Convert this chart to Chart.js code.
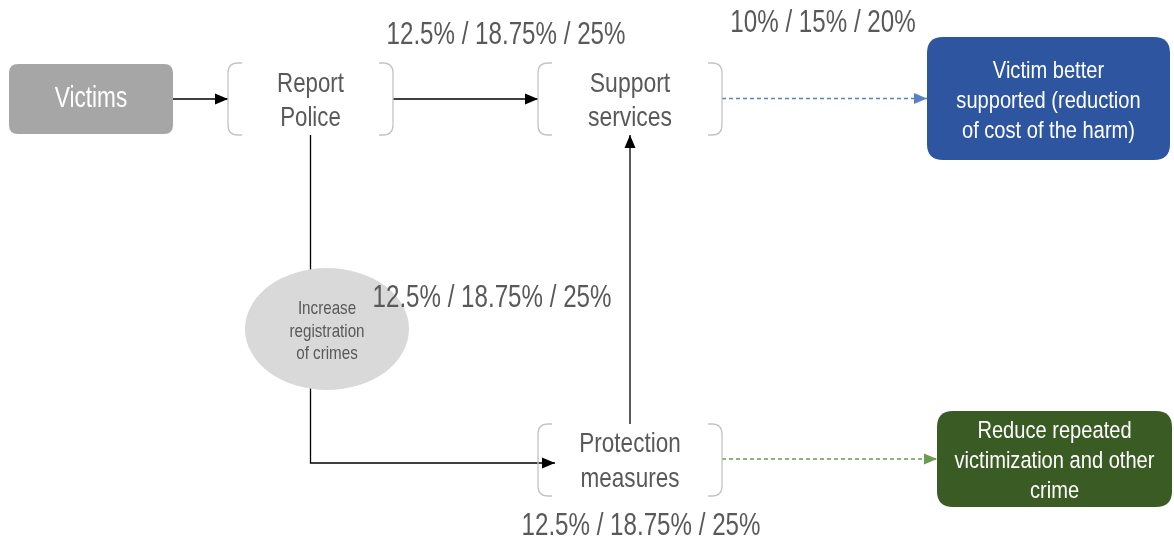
<!DOCTYPE html>
<html><head><meta charset="utf-8">
<script src="https://cdn.jsdelivr.net/npm/chart.js@4.4.1/dist/chart.umd.min.js"></script>
<style>html,body{margin:0;padding:0;background:#fff;overflow:hidden}canvas{display:block}</style>
</head><body><canvas id="c" width="1174" height="542"></canvas>
<script>
// ---- data ----
const nodeNames = ['Victims', 'Report\nPolice', 'Support\nservices', 'Increase\nregistration\nof crimes', 'Protection\nmeasures', 'Victim better\nsupported (reduction\nof cost of the harm)', 'Reduce repeated\nvictimization and other\ncrime'];
const nodeKinds = ['solid', 'bracket', 'bracket', 'ellipse', 'bracket', 'solid', 'solid'];
const rateLabels = ['12.5% / 18.75% / 25%', '10% / 15% / 20%', '12.5% / 18.75% / 25%', '12.5% / 18.75% / 25%'];
const edgeFrom = [0, 1, 2, 1, 4, 4];
const edgeTo = [1, 2, 5, 4, 2, 6];
const edgeKinds = ['straight', 'straight', 'straight', 'elbow', 'vertical', 'straight'];

// ---- layout / style (not data) ----
const nodeBoxes = [[9,64,173,134],[228,63,393,135],[538,63,722,135],[245,268,409,390],[538,424,722,496],[927,37,1170,160],[937,411,1172,507]];
const nodeFill = ['#a6a6a6', null, null, '#d9d9d9', null, '#2e55a0', '#3a5b24'];
const nodeText = ['#ffffff', '#595959', '#595959', '#595959', '#595959', '#ffffff', '#ffffff'];
const nodeFont = [30, 28, 28, 18.5, 28, 24.5, 24.5];
const nodeXs = [0.92, 0.97, 1.0, 1.0, 0.98, 1.0, 1.0];
const nodeLine = [34, 34, 34, 22.5, 35, 30, 30];
const nodeDy = [0, 2, 2, 2.5, 2, 3, 2];
const edgeColor = ['#000', '#000', '#5b7fc4', '#000', '#000', '#6d9a4e'];
const edgeDash = [[], [], [4, 3], [], [], [4, 3]];
const edgeInset = [0, 0, 0, 17, 0, 0];
const ratePos = [[506, 35], [823, 23], [492, 298], [641, 526]];

// font detection
function hasFont(name) {
  const c = document.createElement('canvas').getContext('2d');
  c.font = '40px monospace'; const a = c.measureText('abcdefghijklmWMi').width;
  c.font = "40px '" + name + "', monospace"; const b = c.measureText('abcdefghijklmWMi').width;
  return a !== b;
}
const NARROW = hasFont('Liberation Sans Narrow');
const FAMILY = NARROW ? "'Liberation Sans Narrow'" : "'Liberation Sans', Arial, sans-serif";
const XSCALE = NARROW ? 1 : 0.82;

function ctr(b) { return [(b[0] + b[2]) / 2, (b[1] + b[3]) / 2]; }

// edge routes computed from node boxes
const edgeRoutes = edgeFrom.map((f, i) => {
  const a = nodeBoxes[f], b = nodeBoxes[edgeTo[i]];
  const ca = ctr(a), cb = ctr(b);
  if (edgeKinds[i] === 'straight') { const y = cb[1]; return [{x: a[2], y: y}, {x: b[0] + edgeInset[i], y: y}]; }
  if (edgeKinds[i] === 'elbow') { return [{x: ca[0], y: a[3]}, {x: ca[0], y: cb[1] + 3}, {x: b[0] + edgeInset[i], y: cb[1] + 3}]; }
  return [{x: ca[0], y: a[1]}, {x: cb[0], y: b[3]}];
});

const datasets = edgeRoutes.map((r, i) => ({
  type: 'line', data: r, showLine: true, borderColor: edgeColor[i], borderWidth: 1.3,
  borderDash: edgeDash[i], pointRadius: 0, fill: false, tension: 0
}));

function drawText(ctx, str, x, y, size, color, lh, xs) {
  const lines = str.split('\n');
  ctx.save();
  ctx.fillStyle = color; ctx.textAlign = 'center'; ctx.textBaseline = 'middle';
  ctx.font = size + 'px ' + FAMILY;
  const y0 = y - (lines.length - 1) * lh / 2;
  lines.forEach((l, k) => {
    ctx.save(); ctx.translate(x, y0 + k * lh); ctx.scale(XSCALE * xs, 1); ctx.fillText(l, 0, 0); ctx.restore();
  });
  ctx.restore();
}
function rr(ctx, x0, y0, x1, y1, r) {
  ctx.beginPath(); ctx.moveTo(x0 + r, y0); ctx.lineTo(x1 - r, y0); ctx.quadraticCurveTo(x1, y0, x1, y0 + r);
  ctx.lineTo(x1, y1 - r); ctx.quadraticCurveTo(x1, y1, x1 - r, y1); ctx.lineTo(x0 + r, y1);
  ctx.quadraticCurveTo(x0, y1, x0, y1 - r); ctx.lineTo(x0, y0 + r); ctx.quadraticCurveTo(x0, y0, x0 + r, y0); ctx.closePath();
}

const flowPlugin = {
  id: 'flow',
  afterDatasetsDraw(chart) {
    const ctx = chart.ctx, xs = chart.scales.x, ys = chart.scales.y;
    const px = v => xs.getPixelForValue(v), py = v => ys.getPixelForValue(v);
    // arrowheads
    edgeRoutes.forEach((r, i) => {
      const p1 = r[r.length - 2], p2 = r[r.length - 1];
      const x1 = px(p1.x), y1 = py(p1.y), x2 = px(p2.x), y2 = py(p2.y);
      const ang = Math.atan2(y2 - y1, x2 - x1), L = 13, W = 5.5;
      ctx.save(); ctx.fillStyle = edgeColor[i]; ctx.beginPath();
      ctx.moveTo(x2, y2);
      ctx.lineTo(x2 - L * Math.cos(ang) + W * Math.sin(ang), y2 - L * Math.sin(ang) - W * Math.cos(ang));
      ctx.lineTo(x2 - L * Math.cos(ang) - W * Math.sin(ang), y2 - L * Math.sin(ang) + W * Math.cos(ang));
      ctx.closePath(); ctx.fill(); ctx.restore();
    });
    // nodes
    nodeBoxes.forEach((b, i) => {
      const x0 = px(b[0]), y0 = py(b[1]), x1 = px(b[2]), y1 = py(b[3]);
      ctx.save();
      if (nodeKinds[i] === 'solid') {
        rr(ctx, x0, y0, x1, y1, i === 0 ? 9 : 16); ctx.fillStyle = nodeFill[i]; ctx.fill();
      } else if (nodeKinds[i] === 'ellipse') {
        ctx.beginPath(); ctx.ellipse((x0 + x1) / 2, (y0 + y1) / 2, (x1 - x0) / 2, (y1 - y0) / 2, 0, 0, Math.PI * 2);
        ctx.fillStyle = nodeFill[i]; ctx.fill();
      } else {
        const r = 10, s = 4;
        ctx.strokeStyle = '#c4c4c4'; ctx.lineWidth = 1.3;
        ctx.beginPath(); ctx.moveTo(x0 + r + s, y0); ctx.lineTo(x0 + r, y0); ctx.quadraticCurveTo(x0, y0, x0, y0 + r);
        ctx.lineTo(x0, y1 - r); ctx.quadraticCurveTo(x0, y1, x0 + r, y1); ctx.lineTo(x0 + r + s, y1); ctx.stroke();
        ctx.beginPath(); ctx.moveTo(x1 - r - s, y0); ctx.lineTo(x1 - r, y0); ctx.quadraticCurveTo(x1, y0, x1, y0 + r);
        ctx.lineTo(x1, y1 - r); ctx.quadraticCurveTo(x1, y1, x1 - r, y1); ctx.lineTo(x1 - r - s, y1); ctx.stroke();
      }
      ctx.restore();
      drawText(ctx, nodeNames[i], (x0 + x1) / 2, (y0 + y1) / 2 + nodeDy[i], nodeFont[i], nodeText[i], nodeLine[i], nodeXs[i]);
    });
    rateLabels.forEach((t, i) => drawText(ctx, t, px(ratePos[i][0]), py(ratePos[i][1]), 31, '#595959', 30, 0.95));
  }
};

new Chart(document.getElementById('c'), {
  type: 'scatter',
  data: { datasets: datasets },
  options: {
    responsive: false, animation: false, devicePixelRatio: 1,
    layout: { padding: 0 },
    plugins: { legend: { display: false }, tooltip: { enabled: false } },
    scales: {
      x: { type: 'linear', min: 0, max: 1174, display: false },
      y: { type: 'linear', min: 0, max: 542, reverse: true, display: false }
    }
  },
  plugins: [flowPlugin]
});
</script></body></html>
